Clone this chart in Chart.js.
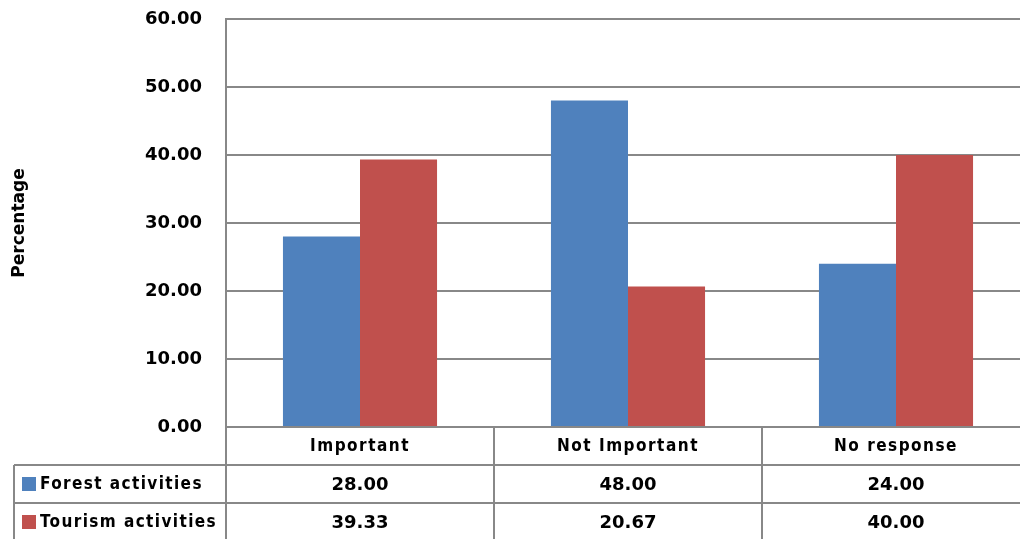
<!DOCTYPE html>
<html>
<head>
<meta charset="utf-8">
<script src="https://cdn.jsdelivr.net/npm/chart.js@4"></script>
<style>
  html, body { margin: 0; padding: 0; background: #fff; overflow: hidden; }
  #wrap { width: 1040px; height: 539px; position: relative; }
</style>
</head>
<body>
<div id="wrap"><canvas id="chart" width="1040" height="539"></canvas></div>
<script>
// Survey responses, in percent
const categories = ['Important', 'Not Important', 'No response'];
const seriesNames = ['Forest activities', 'Tourism activities'];
const forestValues = [28.00, 48.00, 24.00];
const tourismValues = [39.33, 20.67, 40.00];
const seriesColors = ['#4F81BD', '#C0504D'];

const lineColor = '#888888';
const textFont = 'bold 17px "DejaVu Sans Condensed", "DejaVu Sans", sans-serif';
const numFont = 'bold 18px "DejaVu Sans", sans-serif';
const ROW_H = 38;

// Data table under the plot: category header row plus one row per series
const dataTablePlugin = {
  id: 'dataTable',
  afterDraw(chart) {
    const ctx = chart.ctx;
    const area = chart.chartArea;
    const xs = chart.scales.x;
    const n = categories.length;
    const colW = xs.width / n;
    const top = area.bottom;
    const tableLeft = 14;
    const bottom = chart.height;

    ctx.save();
    ctx.strokeStyle = lineColor;
    ctx.lineWidth = 2;
    ctx.beginPath();
    // row separators
    for (let r = 1; r <= 2; r++) {
      const y = top + r * ROW_H;
      ctx.moveTo(tableLeft, y);
      ctx.lineTo(area.right, y);
    }
    // column separators
    for (let i = 0; i <= n; i++) {
      const x = xs.left + i * colW;
      ctx.moveTo(x, i === 0 ? area.top : top);
      ctx.lineTo(x, bottom);
    }
    // left edge of series label column
    ctx.moveTo(tableLeft, top + ROW_H);
    ctx.lineTo(tableLeft, bottom);
    ctx.stroke();

    ctx.fillStyle = '#000';
    ctx.textAlign = 'center';
    ctx.textBaseline = 'middle';
    ctx.font = textFont;
    ctx.letterSpacing = '1.5px';
    categories.forEach((c, i) => {
      ctx.fillText(c, xs.getPixelForValue(i), top + ROW_H / 2 + 1);
    });

    const rows = [forestValues, tourismValues];
    rows.forEach((vals, r) => {
      const cy = top + ROW_H * (r + 1) + ROW_H / 2 + 1;
      ctx.font = numFont;
      ctx.letterSpacing = '0px';
      ctx.textAlign = 'center';
      vals.forEach((v, i) => {
        ctx.fillText(v.toFixed(2), xs.getPixelForValue(i), cy);
      });
      // legend key + series name
      ctx.fillStyle = seriesColors[r];
      ctx.fillRect(tableLeft + 8, cy - 8, 14, 14);
      ctx.fillStyle = '#000';
      ctx.textAlign = 'left';
      ctx.font = textFont;
      ctx.letterSpacing = '1.4px';
      ctx.fillText(seriesNames[r], tableLeft + 26, cy);
    });
    ctx.restore();
  }
};

new Chart(document.getElementById('chart'), {
  type: 'bar',
  data: {
    labels: categories,
    datasets: [
      { label: seriesNames[0], data: forestValues, backgroundColor: seriesColors[0] },
      { label: seriesNames[1], data: tourismValues, backgroundColor: seriesColors[1] }
    ]
  },
  options: {
    responsive: false,
    animation: false,
    events: [],
    layout: { padding: { top: 19, bottom: 539 - 427, left: 0, right: 10 } },
    datasets: { bar: { categoryPercentage: 0.575, barPercentage: 1.0 } },
    plugins: { legend: { display: false }, tooltip: { enabled: false } },
    scales: {
      x: { display: false },
      y: {
        min: 0,
        max: 60,
        ticks: {
          stepSize: 10,
          padding: 24,
          color: '#000',
          font: { family: '"DejaVu Sans", sans-serif', size: 18, weight: 'bold' },
          callback: v => Number(v).toFixed(2)
        },
        grid: { color: lineColor, lineWidth: 2, drawTicks: false },
        border: { color: lineColor, width: 2 },
        title: {
          display: true,
          text: 'Percentage',
          color: '#000',
          font: { family: '"DejaVu Sans", sans-serif', size: 17, weight: 'bold' },
          padding: { top: 9, bottom: 0 }
        },
        afterFit(scale) {
          scale.width = 226;
          scale.paddingTop = 0;
          scale.paddingBottom = 0;
        }
      }
    }
  },
  plugins: [dataTablePlugin]
});
</script>
</body>
</html>
